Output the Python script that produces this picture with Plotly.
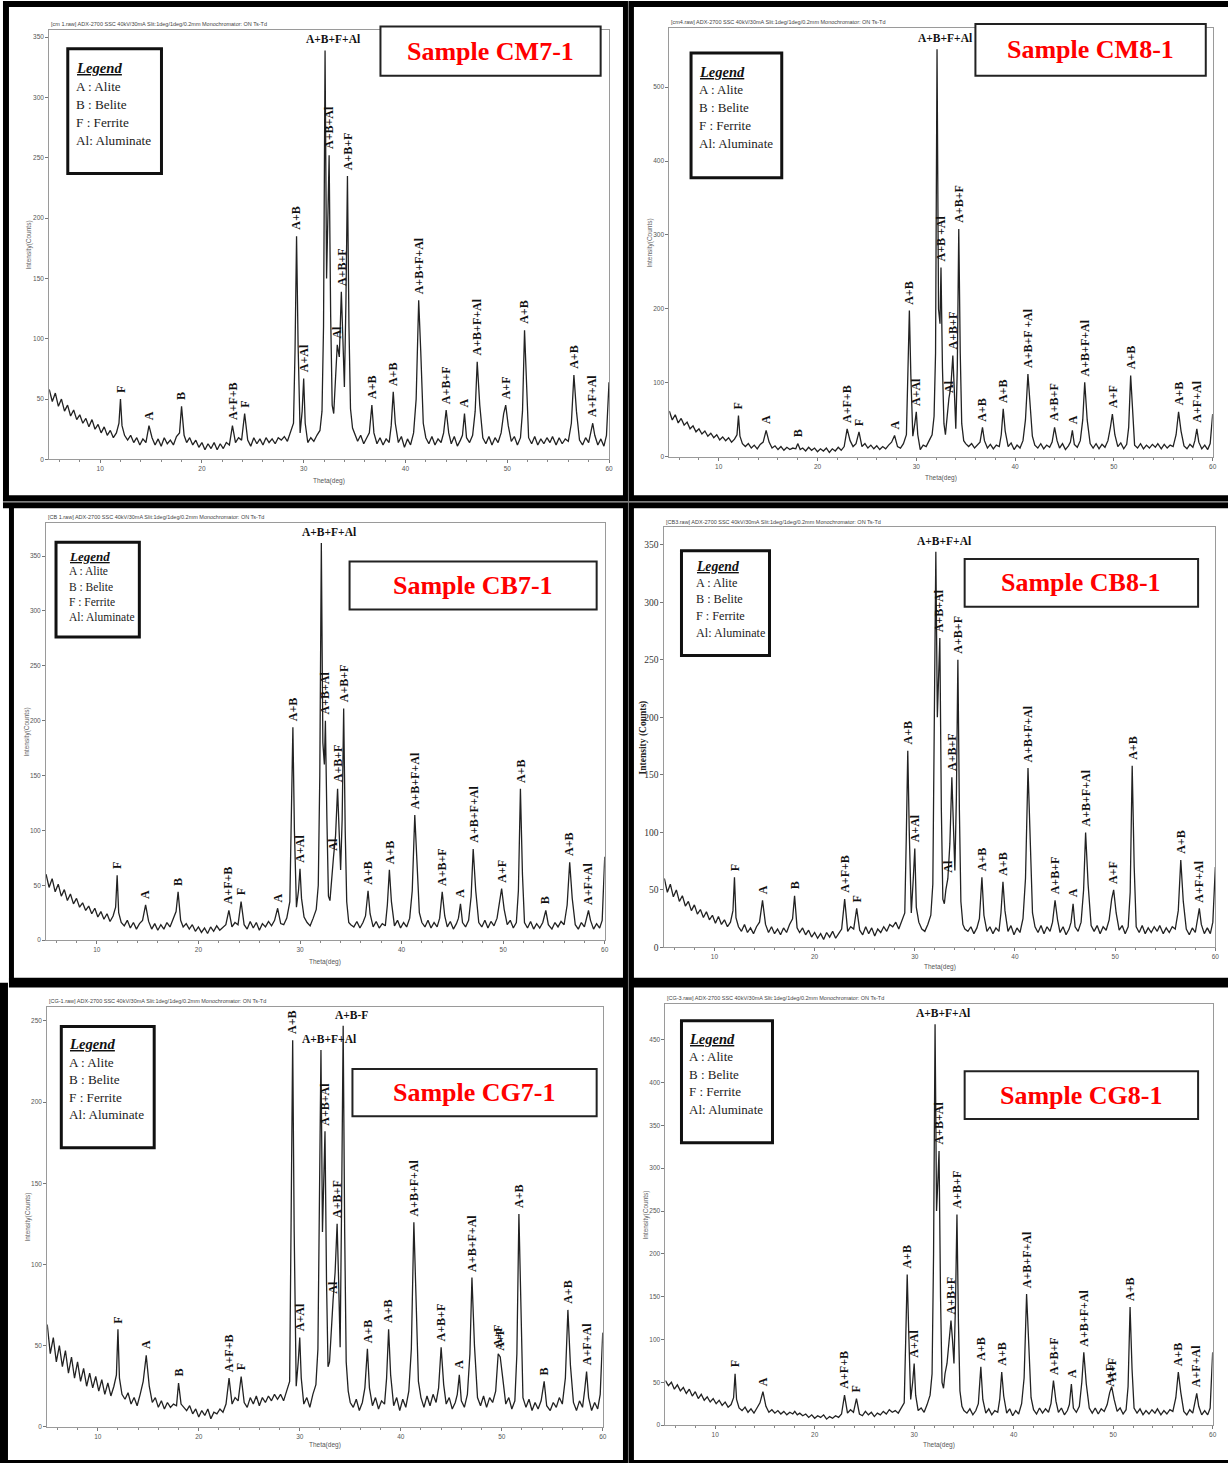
import plotly.graph_objects as go

W, H = 1232, 1468

# ---------------- data ----------------
TWO_THETA = [
    5.0, 5.3, 5.6, 5.9, 6.2, 6.5, 6.8, 7.1, 7.4, 7.7, 8.0, 8.3, 8.6, 8.9, 9.2, 9.5, 9.8, 10.1, 10.4, 10.7, 11.0, 11.3, 11.6,
    11.85, 12.0, 12.15, 12.4,
    12.7, 13.0, 13.3, 13.6, 13.9, 14.2, 14.5,
    14.8, 15.1, 15.4,
    15.7, 16.0, 16.3, 16.6, 16.9, 17.2, 17.5, 17.8,
    18.0, 18.25,
    18.5, 18.8, 19.1, 19.4, 19.7, 20.0, 20.3, 20.6, 20.9, 21.2, 21.5, 21.8, 22.1, 22.4, 22.7,
    23.0, 23.3, 23.6, 23.9,
    24.2, 24.5, 24.8, 25.1, 25.4, 25.7, 26.0, 26.3, 26.6, 26.9, 27.2, 27.5,
    27.8, 28.1, 28.4, 28.7, 29.0,
    29.15, 29.3, 29.45, 29.65, 29.85, 30.0, 30.15, 30.4, 30.7, 31.0, 31.3, 31.6, 31.8,
    31.95, 32.1, 32.25, 32.4, 32.5, 32.65, 32.8, 32.95,
    33.1, 33.3, 33.5, 33.7, 33.85, 34.0, 34.15, 34.3, 34.45, 34.6, 34.8, 35.0,
    35.3, 35.6, 35.9, 36.2, 36.45, 36.7, 36.9, 37.2, 37.5, 37.8, 38.1, 38.4, 38.6, 38.8, 39.0, 39.3, 39.6, 39.9, 40.2, 40.5, 40.8, 41.05,
    41.3, 41.5, 41.75, 42.0, 42.3, 42.6, 42.9, 43.2, 43.5, 43.75, 44.0, 44.25, 44.5, 44.8, 45.1, 45.4, 45.6, 45.8, 46.0, 46.3, 46.6, 46.85,
    47.05, 47.3, 47.6, 47.9, 48.2, 48.5, 48.8, 49.1, 49.4, 49.65, 49.85, 50.1, 50.4, 50.7, 51.0, 51.3, 51.5,
    51.7, 51.9, 52.1, 52.4, 52.7, 53.0, 53.3, 53.6, 53.9, 54.2, 54.45, 54.8, 55.1, 55.4, 55.7, 56.0, 56.3,
    56.55, 56.8, 57.1, 57.4, 57.7, 58.0, 58.2, 58.4, 58.6, 58.9, 59.2, 59.5, 59.75, 60.0,
]

CM7_1 = [
    58, 48, 55, 44, 50, 40, 45, 36, 41, 33, 37, 30, 34, 27, 33, 25, 29, 22, 27, 20, 24, 18, 22,
    30, 50, 28, 20,
    16, 20, 14, 18, 12, 17, 14,
    28, 18, 12,
    17, 11, 18, 13, 16, 12, 19, 22,
    44, 20,
    14, 18, 12, 16, 10, 14, 8, 13, 9, 14, 8, 13, 9, 14, 12,
    28, 14, 18, 16,
    38, 16, 11, 18, 13, 17, 12, 18, 14, 17, 13, 18,
    16, 19, 15, 22, 30,
    90, 185, 95, 22, 40, 67, 30, 14, 18, 15, 20, 24, 40,
    110, 339, 150, 210, 252, 120, 45, 38,
    60, 95, 85, 139, 100, 60, 130, 235, 110, 42, 26, 22,
    15, 20, 13, 18, 22, 45, 22, 13, 18, 12, 17, 14, 28, 56, 30, 14, 19, 10, 17, 12, 22, 50,
    132, 90, 30, 18, 13, 19, 12, 17, 14, 22, 41, 22, 13, 19, 11, 16, 20, 38, 18, 14, 20, 40,
    81, 45, 18, 13, 19, 12, 18, 14, 22, 38, 45, 28, 15, 19, 12, 18, 40,
    107, 55, 18, 13, 19, 12, 17, 13, 18, 14, 19, 12, 18, 13, 17, 15, 30,
    70, 40, 16, 12, 18, 14, 22, 30, 20, 12, 17, 11, 20, 64,
]

CM8_1 = [
    62, 50, 57, 46, 52, 43, 47, 38, 42, 34, 38, 31, 35, 28, 32, 26, 30, 23, 27, 22, 26, 20, 24,
    30, 56, 28, 18,
    14, 18, 12, 16, 11, 17, 20,
    36, 20, 12,
    15, 10, 14, 9, 13, 10, 12, 11,
    18, 10,
    12, 8, 13, 9, 12, 7, 11, 8, 12, 6, 11, 8, 13, 9, 14,
    38, 22, 14, 18,
    34, 14, 18, 12, 16, 11, 15, 10, 14, 11, 16, 20,
    29, 14, 12, 18, 30,
    100, 198, 110, 28, 45, 61, 30, 10, 16, 14, 22, 30, 55,
    140, 551, 200, 180, 256, 120, 45, 30,
    55, 79, 95, 137, 90, 38, 120, 308, 140, 45, 22, 18,
    14, 18, 12, 16, 20, 40, 22, 12, 17, 11, 16, 14, 30, 65, 35, 14, 19, 10, 16, 12, 22, 50,
    112, 75, 28, 16, 12, 18, 11, 16, 13, 20, 40, 22, 12, 18, 10, 15, 20, 36, 17, 13, 22, 50,
    101, 50, 18, 12, 18, 11, 17, 13, 22, 40, 58, 30, 14, 19, 11, 17, 40,
    110, 55, 16, 12, 18, 11, 16, 12, 17, 13, 18, 11, 17, 12, 16, 14, 30,
    61, 35, 15, 11, 17, 13, 22, 38, 20, 11, 16, 10, 18, 58,
]

CB7_1 = [
    60, 48, 56, 44, 51, 40, 46, 36, 42, 33, 38, 30, 34, 27, 31, 24, 29, 21, 26, 19, 24, 17, 22,
    30, 59, 25, 16,
    13, 18, 11, 16, 10, 15, 18,
    32, 17, 10,
    15, 9, 14, 10, 16, 12, 20, 26,
    44, 18,
    12, 15, 10, 14, 8, 12, 7, 11, 6, 12, 8, 13, 9, 12, 14,
    27, 12, 16, 14,
    35, 14, 10, 17, 11, 16, 9, 15, 12, 17, 13, 18,
    29, 15, 14, 20, 35,
    110, 194, 100, 30, 45, 65, 38, 21, 16, 13, 20, 28, 50,
    150, 362, 180, 160, 200, 110, 40, 36,
    55, 76, 95, 138, 100, 64, 110, 211, 100, 35, 16, 14,
    12, 17, 11, 16, 22, 45, 24, 12, 17, 11, 15, 13, 32, 64, 35, 13, 18, 11, 16, 12, 20, 45,
    114, 70, 25, 16, 12, 18, 11, 16, 12, 20, 44, 22, 12, 17, 10, 15, 20, 33, 16, 12, 18, 40,
    83, 45, 16, 12, 18, 11, 17, 13, 20, 35, 47, 28, 14, 18, 11, 16, 45,
    138, 60, 16, 11, 17, 10, 15, 11, 16, 27, 14, 10, 16, 12, 17, 14, 32,
    71, 38, 14, 10, 16, 12, 20, 27, 18, 10, 15, 11, 18, 76,
]

CB8_1 = [
    60, 48, 55, 44, 50, 40, 45, 36, 40, 32, 37, 29, 33, 26, 31, 24, 28, 21, 27, 20, 24, 18, 22,
    32, 61, 26, 18,
    14, 20, 13, 17, 12, 18, 22,
    41, 20, 13,
    18, 12, 16, 11, 17, 13, 20, 25,
    45, 17,
    13, 17, 11, 15, 9, 13, 8, 12, 7, 13, 9, 14, 8, 12, 16,
    42, 14, 18, 16,
    34, 15, 11, 18, 12, 17, 10, 16, 13, 18, 14, 20,
    18, 22, 16, 24, 30,
    95, 171, 100, 30, 60, 86, 35, 22, 16, 14, 20, 28, 55,
    180, 344, 200, 240, 269, 120, 42, 38,
    50, 60, 90, 148, 110, 67, 130, 250, 120, 40, 20, 16,
    14, 18, 12, 17, 25, 61, 28, 14, 18, 12, 17, 14, 30, 57, 32, 14, 19, 11, 17, 13, 25, 60,
    156, 100, 30, 18, 13, 19, 12, 18, 14, 22, 41, 24, 13, 18, 11, 16, 22, 38, 18, 14, 22, 50,
    100, 55, 19, 14, 19, 12, 18, 15, 24, 42, 50, 30, 15, 19, 12, 18, 48,
    158, 70, 18, 13, 19, 12, 17, 13, 18, 14, 19, 12, 17, 13, 18, 16, 32,
    76, 40, 16, 11, 17, 13, 24, 34, 20, 12, 17, 12, 22, 70,
]

CG7_1 = [
    63, 45, 55, 40, 50, 37, 47, 33, 43, 30, 40, 28, 36, 25, 33, 24, 31, 22, 29, 20, 27, 19, 25,
    32, 60, 30, 20,
    17, 21, 14, 18, 13, 20, 28,
    44, 25, 15,
    18, 12, 16, 11, 15, 12, 14, 13,
    27, 14,
    12, 10, 13, 8, 11, 6, 10, 7, 11, 5, 9, 8, 11, 9, 14,
    30, 14, 18, 16,
    31, 15, 12, 18, 14, 19, 13, 18, 15, 19, 16, 20,
    17, 20, 16, 22, 28,
    130, 238, 120, 25, 40, 55, 30, 14, 18, 12, 20, 26, 48,
    130, 232, 120, 160, 182, 90, 37, 40,
    60, 78, 95, 125, 90, 49, 140, 247, 120, 40, 22, 15,
    12, 17, 10, 15, 24, 48, 24, 13, 18, 11, 16, 14, 30, 60, 32, 13, 18, 10, 17, 12, 22, 48,
    126, 80, 28, 18, 12, 19, 13, 20, 15, 24, 49, 26, 14, 18, 11, 15, 20, 32, 16, 12, 20, 45,
    92, 50, 18, 13, 19, 12, 18, 15, 22, 45, 43, 30, 14, 18, 11, 16, 45,
    131, 62, 18, 12, 17, 10, 15, 11, 16, 28, 13, 10, 15, 12, 18, 14, 30,
    72, 38, 15, 10, 16, 12, 22, 34, 18, 10, 15, 11, 20, 58,
]

CG8_1 = [
    52, 46, 50, 42, 47, 40, 44, 37, 42, 34, 39, 31, 36, 29, 33, 27, 31, 25, 29, 23, 27, 21, 24,
    32, 60, 30, 20,
    17, 21, 15, 19, 14, 20, 26,
    39, 22, 15,
    18, 14, 17, 13, 16, 12, 15, 13,
    16, 12,
    14, 11, 13, 9, 12, 8, 11, 9, 12, 7, 10, 8, 11, 9, 13,
    35, 14, 18, 15,
    31, 13, 11, 16, 12, 15, 10, 14, 12, 16, 13, 18,
    15, 17, 14, 20, 26,
    100, 176, 110, 30, 50, 72, 35, 17, 20, 15, 24, 35, 60,
    200, 468, 250, 290, 320, 150, 50, 43,
    60, 72, 95, 122, 100, 72, 140, 246, 120, 40, 22, 17,
    14, 19, 12, 17, 25, 68, 30, 14, 19, 12, 17, 15, 30, 62, 34, 14, 19, 11, 17, 13, 25, 55,
    153, 100, 32, 18, 13, 20, 14, 19, 15, 25, 52, 28, 15, 20, 12, 17, 24, 48, 20, 15, 22, 50,
    85, 48, 20, 14, 20, 13, 19, 16, 24, 38, 45, 30, 16, 20, 13, 18, 45,
    138, 65, 20, 14, 19, 12, 17, 13, 18, 14, 19, 12, 17, 13, 18, 16, 32,
    62, 38, 16, 12, 18, 14, 24, 37, 22, 12, 17, 12, 20, 85,
]

# peak labels (phase text, 2-theta of the labelled peak)
CM7_LABELS = ["F", "A", "B", "A+F+B", "F", "A+B", "A+Al", "A+B+F+Al", "A+B+Al", "Al", "A+B+F", "A+B+F",
              "A+B", "A+B", "A+B+F+Al", "A+B+F", "A", "A+B+F+Al", "A+F", "A+B", "A+B", "A+F+Al"]
CM7_LABEL_AT = [12.0, 14.8, 18.0, 23.0, 24.2, 29.3, 30.0, 32.1, 32.5, 33.3, 33.7, 34.3,
                36.7, 38.8, 41.3, 44.0, 45.8, 47.05, 49.85, 51.7, 56.55, 58.4]

CM8_LABELS = ["F", "A", "B", "A+F+B", "F", "A", "A+B", "A+Al", "A+B+F+Al", "A+B +Al", "Al", "A+B+F", "A+B+F",
              "A+B", "A+B", "A+B+F +Al", "A+B+F", "A", "A+B+F+Al", "A+F", "A+B", "A+B", "A+F+Al"]
CM8_LABEL_AT = [12.0, 14.8, 18.0, 23.0, 24.2, 27.8, 29.3, 30.0, 32.1, 32.5, 33.3, 33.7, 34.3,
                36.7, 38.8, 41.3, 44.0, 45.8, 47.05, 49.85, 51.7, 56.55, 58.4]

CB7_LABELS = ["F", "A", "B", "A+F+B", "F", "A", "A+B", "A+Al", "A+B+F+Al", "A+B+Al", "Al", "A+B+F", "A+B+F",
              "A+B", "A+B", "A+B+F+Al", "A+B+F", "A", "A+B+F+Al", "A+F", "A+B", "B", "A+B", "A+F+Al"]
CB7_LABEL_AT = [12.0, 14.8, 18.0, 23.0, 24.2, 27.8, 29.3, 30.0, 32.1, 32.5, 33.3, 33.7, 34.3,
                36.7, 38.8, 41.3, 44.0, 45.8, 47.05, 49.85, 51.7, 54.2, 56.55, 58.4]

CB8_LABELS = ["F", "A", "B", "A+F+B", "F", "A+B", "A+Al", "A+B+F+Al", "A+B+Al", "Al", "A+B+F", "A+B+F",
              "A+B", "A+B", "A+B+F+Al", "A+B+F", "A", "A+B+F+Al", "A+F", "A+B", "A+B", "A+F+Al"]
CB8_LABEL_AT = [12.0, 14.8, 18.0, 23.0, 24.2, 29.3, 30.0, 32.1, 32.5, 33.3, 33.7, 34.3,
                36.7, 38.8, 41.3, 44.0, 45.8, 47.05, 49.85, 51.7, 56.55, 58.4]

CG7_LABELS = ["F", "A", "B", "A+F+B", "F", "A+B", "A+Al", "A+B+F+Al", "A+B+Al", "Al", "A+B+F", "A+B-F",
              "A+B", "A+B", "A+B+F+Al", "A+B+F", "A", "A+B+F+Al", "A+F", "A+F", "A+B", "B", "A+B", "A+F+Al"]
CG7_LABEL_AT = [12.0, 14.8, 18.0, 23.0, 24.2, 29.3, 30.0, 32.1, 32.5, 33.3, 33.7, 34.3,
                36.7, 38.8, 41.3, 44.0, 45.8, 47.05, 49.65, 49.85, 51.7, 54.2, 56.55, 58.4]

CG8_LABELS = ["F", "A", "A+F+B", "F", "A+B", "A+Al", "A+B+F+Al", "A+B+Al", "A+B+F", "A+B+F",
              "A+B", "A+B", "A+B+F+Al", "A+B+F", "A", "A+B+F+Al", "A+F", "A+F", "A+B", "A+B", "A+F+Al"]
CG8_LABEL_AT = [12.0, 14.8, 23.0, 24.2, 29.3, 30.0, 32.1, 32.5, 33.7, 34.3,
                36.7, 38.8, 41.3, 44.0, 45.8, 47.05, 49.65, 49.85, 51.7, 56.55, 58.4]

# labels written horizontally
CM7_FLAT = [32.1]
CM8_FLAT = [32.1]
CB7_FLAT = [32.1]
CB8_FLAT = [32.1]
CG7_FLAT = [32.1, 34.3]
CG8_FLAT = [32.1]

SAMPLE_NAMES = ["Sample CM7-1", "Sample CM8-1", "Sample CB7-1", "Sample CB8-1", "Sample CG7-1", "Sample CG8-1"]
RAW_FILES = ["[cm 1.raw]", "[cm4.raw]", "[CB 1.raw]", "[CB3.raw]", "[CG-1.raw]", "[CG-3.raw]"]
INSTRUMENT = "ADX-2700 SSC 40kV/30mA Slit:1deg/1deg/0.2mm Monochromator: ON Ts-Td"
LEGEND_ROWS = ["A : Alite", "B : Belite", "F : Ferrite", "Al: Aluminate"]
X_TICKS = [10, 20, 30, 40, 50, 60]
X_TITLE = "Theta(deg)"
Y_TITLE = "Intensity(Counts)"

# ---------------- layout geometry (pixels) ----------------
def X(px):
    return px / W


def Y(py):
    return 1 - py / H


SERIF = "Liberation Serif, Times New Roman, serif"
SANS = "Liberation Sans, Arial, sans-serif"

panels = [
    dict(y=CM7_1, labels=CM7_LABELS, at=CM7_LABEL_AT, flat=CM7_FLAT,
         plot=(49.4, 611, 461, 30), ymax=356, ystep=50, ytop_tick=350,
         legend=(68, 162, 49, 174), leg_x=74, leg_y0=68, leg_dy=18.3, leg_fs=13.2,
         title=(381.7, 602.6, 26.7, 76), ytitle_x=29, xtitle_y=483),
    dict(y=CM8_1, labels=CM8_LABELS, at=CM8_LABEL_AT, flat=CM8_FLAT,
         plot=(671.5, 1216.6, 458.5, 28.3), ymax=579.5, ystep=100, ytop_tick=500,
         legend=(693.3, 784.3, 53.3, 178.3), leg_x=699, leg_y0=72, leg_dy=18, leg_fs=13,
         title=(978.6, 1209.7, 24, 76), ytitle_x=652, xtitle_y=480),
    dict(y=CB7_1, labels=CB7_LABELS, at=CB7_LABEL_AT, flat=CB7_FLAT,
         plot=(46.2, 606.7, 943.3, 525), ymax=380, ystep=50, ytop_tick=350,
         legend=(56.2, 139.8, 544, 639.3), leg_x=67.5, leg_y0=558, leg_dy=15.3, leg_fs=11.5,
         title=(350.7, 598.6, 563.3, 611.7), ytitle_x=27, xtitle_y=965),
    dict(y=CB8_1, labels=CB8_LABELS, at=CB8_LABEL_AT, flat=CB8_FLAT,
         plot=(666.5, 1219.3, 950.7, 529.3), ymax=365, ystep=50, ytop_tick=350,
         legend=(683.7, 772, 552.7, 657.7), leg_x=696, leg_y0=568, leg_dy=16.7, leg_fs=12.2,
         title=(967.8, 1202, 561, 608.7), ytitle_x=646, xtitle_y=970, bold_y=True),
    dict(y=CG7_1, labels=CG7_LABELS, at=CG7_LABEL_AT, flat=CG7_FLAT,
         plot=(47.4, 604.7, 1431.7, 1010), ymax=258.8, ystep=50, ytop_tick=250,
         legend=(61.5, 154.7, 1030, 1151.7), leg_x=67.5, leg_y0=1048, leg_dy=17.7, leg_fs=13.2,
         title=(353.6, 598.6, 1072.7, 1120), ytitle_x=28, xtitle_y=1450),
    dict(y=CG8_1, labels=CG8_LABELS, at=CG8_LABEL_AT, flat=CG8_FLAT,
         plot=(667.6, 1216.6, 1430, 1007.7), ymax=491.4, ystep=50, ytop_tick=450,
         legend=(683.7, 775, 1024.3, 1146.7), leg_x=689.5, leg_y0=1043, leg_dy=17.5, leg_fs=13,
         title=(967.8, 1202, 1075, 1122.7), ytitle_x=648, xtitle_y=1450),
]

fig = go.Figure()
shapes = []
annotations = []
layout_axes = {}


def paper_text(px, py, text, font, xanchor="center", yanchor="middle", angle=0):
    annotations.append(dict(x=X(px), y=Y(py), xref="paper", yref="paper", text=text,
                            xanchor=xanchor, yanchor=yanchor, textangle=angle,
                            showarrow=False, font=font))


for i, p in enumerate(panels):
    n = i + 1
    sfx = "" if n == 1 else str(n)
    xa, ya = "x" + sfx, "y" + sfx
    ys = p["y"]
    assert len(ys) == len(TWO_THETA), (i, len(ys))
    x0, x1, yb, yt = p["plot"]

    fig.add_trace(go.Scatter(x=TWO_THETA, y=ys, mode="lines", xaxis=xa, yaxis=ya,
                             line=dict(color="#222222", width=1.3), showlegend=False,
                             hoverinfo="skip"))

    layout_axes["xaxis" + sfx] = dict(
        domain=[X(x0), X(x1)], anchor=ya, range=[5, 60],
        tickvals=X_TICKS, ticks="outside", ticklen=3, tickcolor="#777",
        tickfont=dict(size=6.5, color="#555", family=SANS),
        minor=dict(dtick=2, tick0=0, ticks="outside", ticklen=2, tickcolor="#888"),
        showline=True, linecolor="#9a9a9a", linewidth=1, mirror=True,
        showgrid=False, zeroline=False, fixedrange=True)
    yfont = dict(size=9.5, color="#333", family=SERIF) if p.get("bold_y") else dict(size=6.5, color="#555", family=SANS)
    layout_axes["yaxis" + sfx] = dict(
        domain=[Y(yb), Y(yt)], anchor=xa, range=[0, p["ymax"]],
        tickvals=list(range(0, p["ytop_tick"] + 1, p["ystep"])),
        ticks="outside", ticklen=3, tickcolor="#777", tickfont=yfont,
        showline=True, linecolor="#9a9a9a", linewidth=1, mirror=True,
        showgrid=False, zeroline=False, fixedrange=True)

    # header line above the plot frame
    paper_text(x0, yt - 1, RAW_FILES[i] + " " + INSTRUMENT,
               dict(size=5.5, color="#444", family=SANS), xanchor="left", yanchor="bottom")
    # axis titles
    if p.get("bold_y"):
        paper_text(p["ytitle_x"], (yb + yt) / 2, "<b>Intensity (Counts)</b>",
                   dict(size=9.5, color="#222", family=SERIF), angle=-90)
    else:
        paper_text(p["ytitle_x"], (yb + yt) / 2, Y_TITLE,
                   dict(size=6.5, color="#666", family=SANS), angle=-90)
    paper_text((x0 + x1) / 2, p["xtitle_y"], X_TITLE, dict(size=6.5, color="#555", family=SANS))

    # peak labels
    lookup = dict(zip(TWO_THETA, ys))
    for txt, pos in zip(p["labels"], p["at"]):
        val = lookup[pos]
        if pos in p["flat"]:
            annotations.append(dict(x=pos, y=val, xref=xa, yref=ya, text="<b>%s</b>" % txt,
                                    xanchor="center", yanchor="bottom", xshift=8, yshift=3,
                                    showarrow=False, font=dict(size=11.5, color="#111", family=SERIF)))
        else:
            annotations.append(dict(x=pos, y=val, xref=xa, yref=ya, text="<b>%s</b>" % txt,
                                    textangle=-90, xanchor="center", yanchor="bottom", yshift=4,
                                    showarrow=False, font=dict(size=12, color="#111", family=SERIF)))

    # legend box
    lx0, lx1, ly0, ly1 = p["legend"]
    shapes.append(dict(type="rect", xref="paper", yref="paper", x0=X(lx0), x1=X(lx1), y0=Y(ly1), y1=Y(ly0),
                       line=dict(color="#111", width=3), fillcolor="white", layer="above"))
    paper_text(p["leg_x"], p["leg_y0"], "<b><i><u>Legend</u></i></b>",
               dict(size=p["leg_fs"] + 1.5, color="#111", family=SERIF), xanchor="left")
    for k, row in enumerate(LEGEND_ROWS):
        paper_text(p["leg_x"], p["leg_y0"] + (k + 1) * p["leg_dy"], row,
                   dict(size=p["leg_fs"], color="#222", family=SERIF), xanchor="left")

    # sample title box
    tx0, tx1, ty0, ty1 = p["title"]
    shapes.append(dict(type="rect", xref="paper", yref="paper", x0=X(tx0), x1=X(tx1), y0=Y(ty1), y1=Y(ty0),
                       line=dict(color="#222", width=2), fillcolor="white", layer="above"))
    paper_text((tx0 + tx1) / 2, (ty0 + ty1) / 2, "<b>%s</b>" % SAMPLE_NAMES[i],
               dict(size=26, color="#ff0000", family=SERIF))


# thick black panel frames
def black(px0, px1, py0, py1):
    shapes.append(dict(type="rect", xref="paper", yref="paper", x0=X(px0), x1=X(px1), y0=Y(py1), y1=Y(py0),
                       line=dict(width=0), fillcolor="black", layer="above"))


black(3, 1232, 1, 7)          # top
black(3, 1232, 497, 510)      # row 1 / row 2
black(9, 1232, 981, 991)      # row 2 / row 3
black(0, 1232, 1465, 1468)    # bottom
black(3, 9, 1, 505)           # left, row 1
black(9, 14, 505, 986)        # left, row 2
black(0, 8, 986, 1468)        # left, row 3
black(625, 636, 1, 1468)      # centre divider
shapes.append(dict(type="line", xref="paper", yref="paper", x0=X(3), x1=X(1232), y0=Y(503.5), y1=Y(503.5),
                   line=dict(color="#aaaaaa", width=1.2), layer="above"))
shapes.append(dict(type="line", xref="paper", yref="paper", x0=X(630.5), x1=X(630.5), y0=Y(1), y1=Y(1468),
                   line=dict(color="#777777", width=1), layer="above"))

fig.update_layout(
    width=W, height=H, autosize=False,
    margin=dict(l=0, r=0, t=0, b=0),
    paper_bgcolor="white", plot_bgcolor="white",
    showlegend=False, shapes=shapes, annotations=annotations,
    **layout_axes,
)

fig.write_html("out.html", config={"displayModeBar": False},
               post_script="document.body.style.margin='0';document.body.style.padding='0';"
                           "document.body.style.overflow='hidden';")
